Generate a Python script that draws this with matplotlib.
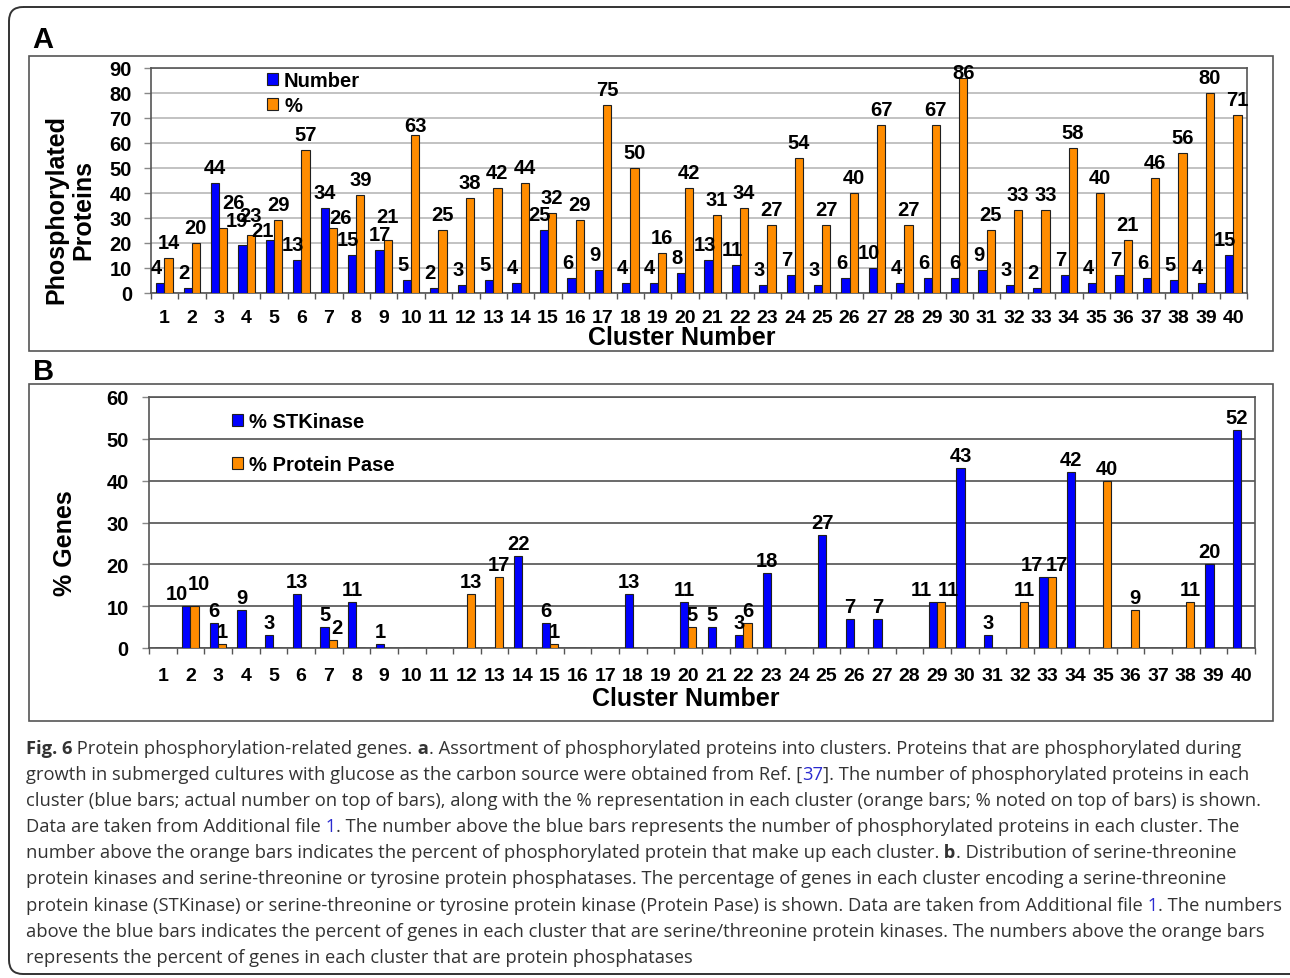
import matplotlib
matplotlib.use('Agg')
import matplotlib.pyplot as plt
from matplotlib.patches import FancyBboxPatch, Rectangle
from matplotlib.transforms import Affine2D
import numpy as np

W, H = 1290, 979

# cluster data
clusters = list(range(1, 41))
phospho_number = [4, 2, 44, 19, 21, 13, 34, 15, 17, 5,
                  2, 3, 5, 4, 25, 6, 9, 4, 4, 8,
                  13, 11, 3, 7, 3, 6, 10, 4, 6, 6,
                  9, 3, 2, 7, 4, 7, 6, 5, 4, 15]
phospho_percent = [14, 20, 26, 23, 29, 57, 26, 39, 21, 63,
                   25, 38, 42, 44, 32, 29, 75, 50, 16, 42,
                   31, 34, 27, 54, 27, 40, 67, 27, 67, 86,
                   25, 33, 33, 58, 40, 21, 46, 56, 80, 71]
stkinase_pct = [0, 10, 6, 9, 3, 13, 5, 11, 1, 0,
                0, 0, 0, 22, 6, 0, 0, 13, 0, 11,
                5, 3, 18, 0, 27, 7, 7, 0, 11, 43,
                3, 0, 17, 42, 0, 0, 0, 0, 20, 52]
pase_pct = [0, 10, 1, 0, 0, 0, 2, 0, 0, 0,
            0, 13, 17, 0, 1, 0, 0, 0, 0, 5,
            0, 6, 0, 0, 0, 0, 0, 0, 11, 0,
            0, 11, 17, 0, 40, 9, 0, 11, 0, 0]

# nudges (px) for value labels that would otherwise collide
nudge_a_blue = {3: (4, 0), 4: (-2, 9), 5: (-3, -6), 7: (4, 0), 9: (4, 0), 30: (4, 0)}
nudge_a_orange = {3: (10, 10), 4: (0, 4), 7: (8, -5), 9: (0, 8), 10: (0, -6), 30: (0, -10)}
nudge_b_blue = {2: (-9, 0), 29: (-12, 0), 33: (-12, 0)}
nudge_b_orange = {2: (4, 10), 7: (4, 0), 29: (7, 0), 33: (5, 0)}

caption = [
    [("Fig. 6", 'b'), (" Protein phosphorylation-related genes.", 'n'), (" a", 'b'),
     (". Assortment of phosphorylated proteins into clusters. Proteins that are phosphorylated during", 'n')],
    [("growth in submerged cultures with glucose as the carbon source were obtained from Ref. [", 'n'),
     ("37", 'l'), ("]. The number of phosphorylated proteins in each", 'n')],
    [("cluster (blue bars; actual number on top of bars), along with the % representation in each cluster (orange bars; % noted on top of bars) is shown.", 'n')],
    [("Data are taken from Additional file", 'n'), (" 1", 'l'),
     (". The number above the blue bars represents the number of phosphorylated proteins in each cluster. The", 'n')],
    [("number above the orange bars indicates the percent of phosphorylated protein that make up each cluster.", 'n'),
     (" b", 'b'), (". Distribution of serine-threonine", 'n')],
    [("protein kinases and serine-threonine or tyrosine protein phosphatases. The percentage of genes in each cluster encoding a serine-threonine", 'n')],
    [("protein kinase (STKinase) or serine-threonine or tyrosine protein kinase (Protein Pase) is shown. Data are taken from Additional file", 'n'),
     (" 1", 'l'), (". The numbers", 'n')],
    [("above the blue bars indicates the percent of genes in each cluster that are serine/threonine protein kinases. The numbers above the orange bars", 'n')],
    [("represents the percent of genes in each cluster that are protein phosphatases", 'n')],
]

BLUE = '#0000ff'
ORANGE = '#ff8c00'
EDGE = '#202020'

plt.rcParams['font.family'] = ['Liberation Sans', 'DejaVu Sans']
plt.rcParams['font.weight'] = 'bold'

fig = plt.figure(figsize=(W / 100, H / 100), dpi=100)
fig.patch.set_facecolor('white')
# pixel coordinates measured from the top-left corner
px = Affine2D().scale(1 / W, -1 / H).translate(0, 1) + fig.transFigure


def axes_at(x0, y0, x1, y1):
    return fig.add_axes([x0 / W, 1 - y1 / H, (x1 - x0) / W, (y1 - y0) / H])


# outer frame and panel boxes
fig.add_artist(FancyBboxPatch((9, 8), 1330, 967, boxstyle='round,pad=0,rounding_size=14',
                              transform=px, fill=False, ec='#333333', lw=1.4))
for y0, y1 in [(57, 352), (385, 722)]:
    fig.add_artist(Rectangle((29, y0), 1273 - 29, y1 - y0, transform=px,
                             fill=False, ec='#555555', lw=1.2))
fig.text(32 / W, 1 - 48 / H, 'A', fontsize=21, fontweight='bold', va='baseline')
fig.text(33 / W, 1 - 380 / H, 'B', fontsize=21, fontweight='bold', va='baseline')


def draw_panel(ax, blue, orange, ymax, grid_color, nb, no, gap, blue_shift, names):
    x = np.array(clusters)
    ax.bar(x - 0.15, blue, 0.3, color=BLUE, edgecolor=EDGE, linewidth=0.8, zorder=3, label=names[0])
    ax.bar(x + 0.15, orange, 0.3, color=ORANGE, edgecolor=EDGE, linewidth=0.8, zorder=3, label=names[1])
    for vals, xs, nudges, shift in [(blue, x - 0.15, nb, blue_shift), (orange, x + 0.15, no, 0)]:
        for c, xv, v in zip(clusters, xs, vals):
            if v == 0:
                continue
            dx, dy = nudges.get(c, (0, 0))
            ax.annotate(str(v), (xv, v), xytext=((shift + dx) * 0.72, (gap + dy) * 0.72),
                        textcoords='offset points', ha='center', va='baseline',
                        fontsize=14.5, fontweight='bold', annotation_clip=False, zorder=5)
    ax.set_xlim(0.5, 40.5)
    ax.set_ylim(0, ymax)
    ax.set_yticks(range(0, ymax + 1, 10))
    ax.set_xticks(clusters)
    ax.set_xticklabels([str(c) for c in clusters])
    ax.set_xticks(np.arange(0.5, 41, 1), minor=True)
    ax.tick_params(axis='x', which='major', length=0, labelsize=14)
    ax.tick_params(axis='x', which='minor', length=4.5, width=1, color='#555555')
    ax.tick_params(axis='y', length=5, width=1, color='#888888', labelsize=14.5)
    ax.grid(axis='y', color=grid_color, lw=1.2)
    ax.set_axisbelow(True)
    for s in ax.spines.values():
        s.set_color('#555555')
        s.set_linewidth(1.2)


# panel A
ax_a = axes_at(150.7, 69, 1247, 293.5)
draw_panel(ax_a, phospho_number, phospho_percent, 90, '#b8b8b8',
           nudge_a_blue, nudge_a_orange, 10, -4, ['Number', '%'])
ax_a.tick_params(axis='x', which='major', pad=12)
ax_a.tick_params(axis='y', pad=8.5)
ax_a.set_xlabel('Cluster Number', fontsize=18, fontweight='bold', va='center')
ax_a.xaxis.set_label_coords((682 - 150.7) / 1096.3, (293.5 - 338) / 224.5)
ax_a.set_ylabel('Phosphorylated\nProteins', fontsize=18, fontweight='bold', va='center',
                linespacing=1.15)
ax_a.yaxis.set_label_coords((70 - 150.7) / 1096.3, (293.5 - 210) / 224.5)
ax_a.legend(loc='upper left', bbox_to_anchor=(267 / W, 1 - 72 / H), bbox_transform=fig.transFigure,
            frameon=False, borderpad=0, borderaxespad=0, handlelength=0.55, handleheight=0.55,
            handletextpad=0.3, labelspacing=0.3, prop={'size': 14.5, 'weight': 'bold'})

# panel B
ax_b = axes_at(149, 398, 1255, 649)
draw_panel(ax_b, stkinase_pct, pase_pct, 60, '#505050',
           nudge_b_blue, nudge_b_orange, 7, 0, ['% STKinase', '% Protein Pase'])
ax_b.tick_params(axis='x', which='major', pad=13.5)
ax_b.tick_params(axis='y', pad=9.5)
ax_b.set_xlabel('Cluster Number', fontsize=18, fontweight='bold', va='center')
ax_b.xaxis.set_label_coords((686 - 149) / 1106, (649 - 699) / 251)
ax_b.set_ylabel('% Genes', fontsize=18, fontweight='bold', va='center')
ax_b.yaxis.set_label_coords((65 - 149) / 1106, (649 - 543) / 251)
ax_b.legend(loc='upper left', bbox_to_anchor=(232 / W, 1 - 413 / H), bbox_transform=fig.transFigure,
            frameon=False, borderpad=0, borderaxespad=0, handlelength=0.55, handleheight=0.55,
            handletextpad=0.3, labelspacing=1.2, prop={'size': 14.5, 'weight': 'bold'})

# caption, drawn run by run so bold and linked parts sit inline
renderer = fig.canvas.get_renderer()
for i, runs in enumerate(caption):
    x = 26
    y = 754 + 26.1 * i
    for text, style in runs:
        t = fig.text(x / W, 1 - y / H, text, fontsize=13.2, family=['Open Sans', 'DejaVu Sans'],
                     fontweight='bold' if style == 'b' else 'normal',
                     color='#2b2bd0' if style == 'l' else '#333333', va='baseline', ha='left')
        x = t.get_window_extent(renderer).x1

fig.savefig('out.png', dpi=100)
